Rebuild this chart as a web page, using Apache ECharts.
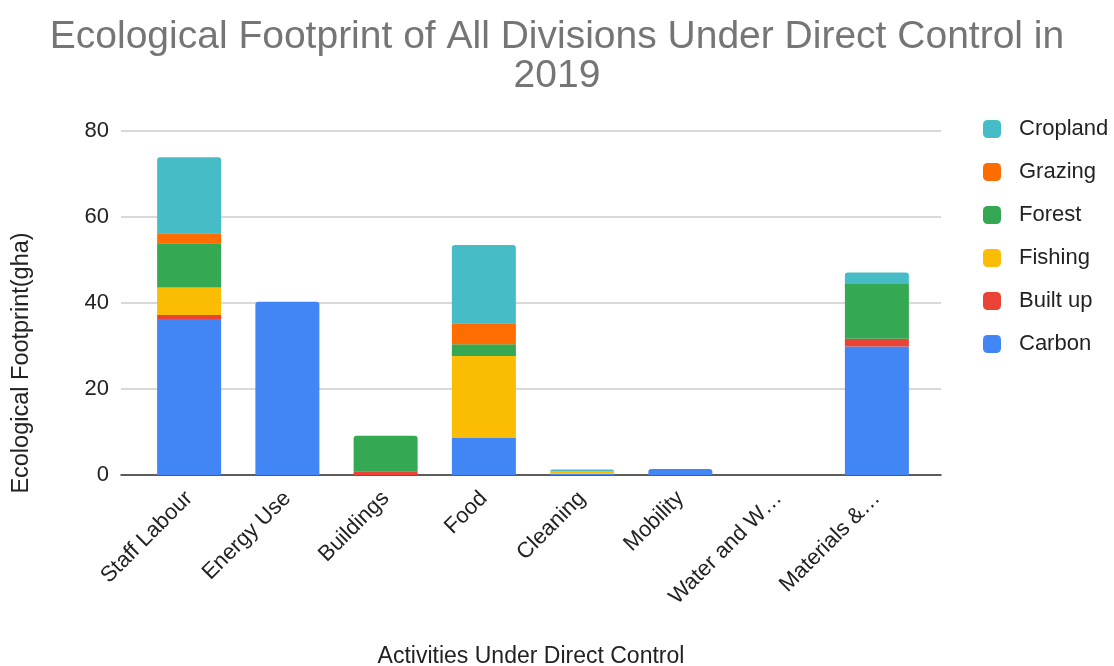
<!DOCTYPE html>
<html>
<head>
<meta charset="utf-8">
<script src="https://cdn.jsdelivr.net/npm/echarts@6/dist/echarts.min.js"></script>
<style>
  html, body { margin: 0; padding: 0; background: #fff; }
  #chart { width: 1114px; height: 666px; }
</style>
</head>
<body>
<div id="chart"></div>
<script>
// Activities and their footprint components (gha)
const categories = ['Staff Labour', 'Energy Use', 'Buildings', 'Food', 'Cleaning', 'Mobility', 'Water and W\u2026', 'Materials &\u2026'];
const carbon   = [36.3, 40.3, 0,   8.7,  0.3, 1.4, 0, 29.9];
const builtUp  = [0.9,  0,    0.9, 0,    0,   0,   0, 1.8];
const fishing  = [6.4,  0,    0,   19.0, 0.5, 0,   0, 0];
const forest   = [10.3, 0,    8.2, 2.7,  0,   0,   0, 12.7];
const grazing  = [2.3,  0,    0,   4.9,  0,   0,   0, 0];
const cropland = [17.7, 0,    0,   18.2, 0.5, 0,   0, 2.7];
const yTicks = [0, 20, 40, 60, 80];

const FONT = '"Liberation Sans", Arial, sans-serif';

// Stacking order, bottom to top
const layers = [
  { name: 'Carbon',   data: carbon,   color: '#4285F4' },
  { name: 'Built up', data: builtUp,  color: '#EA4335' },
  { name: 'Fishing',  data: fishing,  color: '#FBBC04' },
  { name: 'Forest',   data: forest,   color: '#34A853' },
  { name: 'Grazing',  data: grazing,  color: '#FF6D01' },
  { name: 'Cropland', data: cropland, color: '#46BDC6' }
];

// Index of the topmost non-empty layer in every column (gets rounded corners)
const topLayer = categories.map((_, i) => {
  let top = -1;
  layers.forEach((l, k) => { if (l.data[i] > 0) top = k; });
  return top;
});

const series = layers.map((l, k) => ({
  name: l.name,
  type: 'bar',
  stack: 'total',
  xAxisIndex: 1,
  yAxisIndex: 1,
  barWidth: 64,
  itemStyle: { color: l.color },
  emphasis: { disabled: true },
  data: l.data.map((v, i) => topLayer[i] === k
    ? { value: v, itemStyle: { borderRadius: [3, 3, 0, 0] } }
    : v)
}));

const chart = echarts.init(document.getElementById('chart'));
chart.setOption({
  animation: false,
  backgroundColor: '#fff',
  title: {
    text: 'Ecological Footprint of All Divisions Under Direct Control in\n2019',
    left: 'center',
    top: 13,
    textStyle: { fontFamily: FONT, fontSize: 39, fontWeight: 'normal', color: '#757575', lineHeight: 39, align: 'center' }
  },
  legend: {
    orient: 'vertical',
    left: 978,
    top: 113,
    itemWidth: 18,
    itemHeight: 18,
    itemGap: 21,
    icon: 'roundRect',
    data: ['Cropland', 'Grazing', 'Forest', 'Fishing', 'Built up', 'Carbon'],
    textStyle: { fontFamily: FONT, fontSize: 22, color: '#222', padding: [0, 0, 0, 13] }
  },
  grid: [
    { left: 121, right: 173, top: 131, bottom: 191 },
    { left: 140, right: 188, top: 131, bottom: 191 }
  ],
  xAxis: [
    {
      type: 'value', gridIndex: 0, min: 0, max: 1,
      axisLine: { show: true, onZero: false, lineStyle: { color: '#333', width: 1.5 } },
      axisTick: { show: false }, axisLabel: { show: false }, splitLine: { show: false }
    },
    {
      type: 'category', gridIndex: 1, data: categories,
      axisLine: { show: false }, axisTick: { show: false },
      axisLabel: { rotate: 45, margin: 20, interval: 0, fontFamily: FONT, fontSize: 22, color: '#222' }
    }
  ],
  yAxis: [
    {
      type: 'value', gridIndex: 0, min: yTicks[0], max: yTicks[yTicks.length - 1], interval: 20,
      axisLine: { show: false }, axisTick: { show: false },
      axisLabel: { margin: 12, fontFamily: FONT, fontSize: 22, color: '#222' },
      splitLine: { lineStyle: { color: '#ccc', width: 1.5 } }
    },
    {
      type: 'value', gridIndex: 1, min: yTicks[0], max: yTicks[yTicks.length - 1], interval: 20,
      show: false, splitLine: { show: false }
    }
  ],
  graphic: [
    {
      type: 'text', x: 22, y: 363,
      rotation: Math.PI / 2,
      style: { text: 'Ecological Footprint(gha)', fontFamily: FONT, fontSize: 23.5, fill: '#222', align: 'center', verticalAlign: 'middle' }
    },
    {
      type: 'text', x: 531, y: 657,
      style: { text: 'Activities Under Direct Control', fontFamily: FONT, fontSize: 23, fill: '#222', align: 'center', verticalAlign: 'middle' }
    }
  ],
  series: series
});
</script>
</body>
</html>
